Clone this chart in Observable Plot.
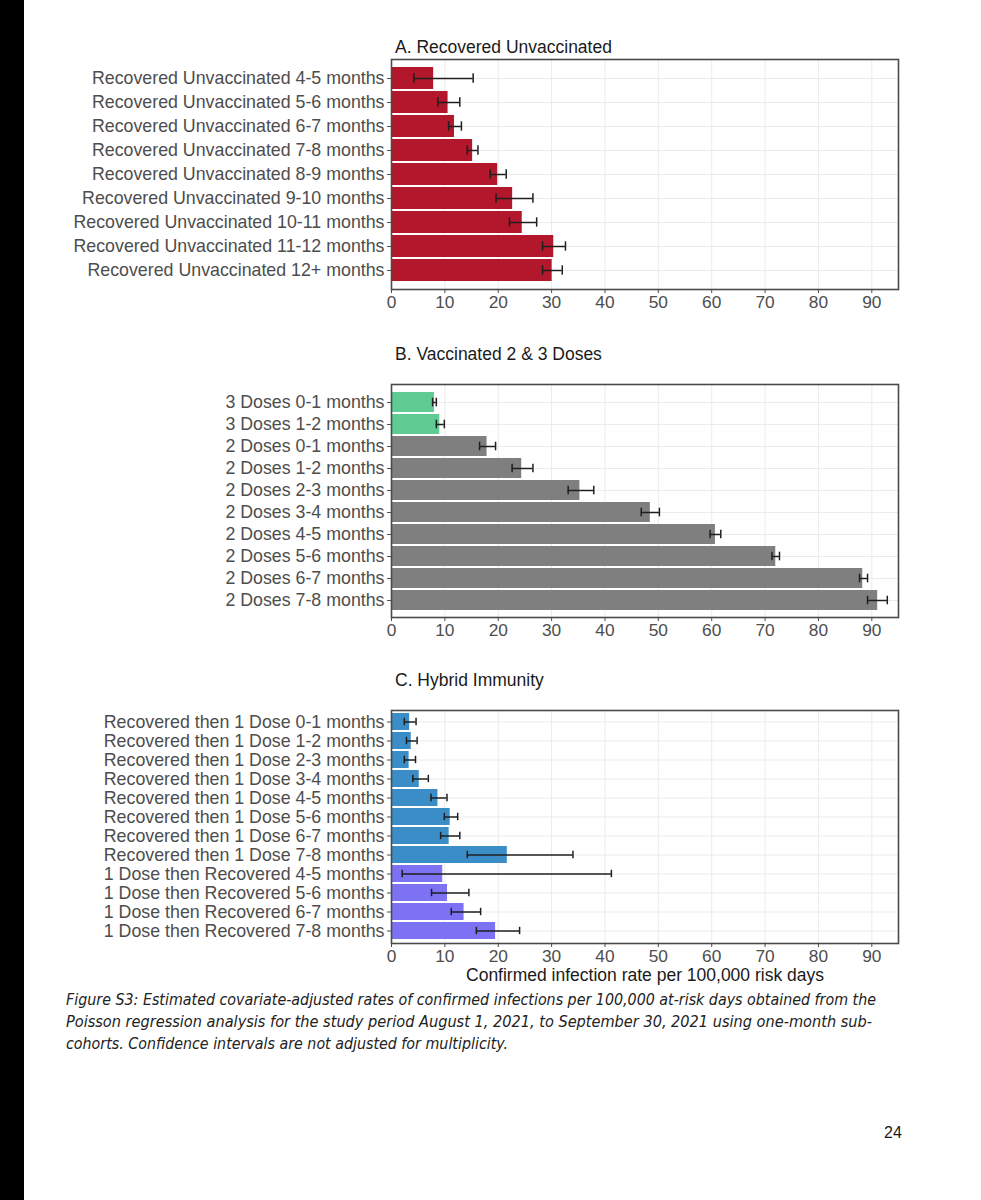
<!DOCTYPE html>
<html>
<head>
<meta charset="utf-8">
<script src="https://cdn.jsdelivr.net/npm/d3@7"></script>
<script src="https://cdn.jsdelivr.net/npm/@observablehq/plot@0.6"></script>
<style>
  html, body { margin: 0; padding: 0; background: #fff; }
  #page { position: relative; width: 981px; height: 1200px; background: #fff; overflow: hidden; font-family: "Liberation Sans", Arial, Helvetica, sans-serif; }
  #strip { position: absolute; left: 0; top: 0; width: 24px; height: 1200px; background: #000; }
  .panel { position: absolute; left: 0; }
  .title { position: absolute; left: 395px; font-size: 17.5px; color: #1a1a1a; white-space: nowrap; line-height: 1; }
  #pagenum { position: absolute; left: 884px; top: 1124px; font-size: 16px; color: #1a1a1a; }
  #caption { position: absolute; left: 0; top: 985px; }
</style>
</head>
<body>
<div id="page">
  <div id="strip"></div>
  <div class="title" style="top:39px">A. Recovered Unvaccinated</div>
  <div class="title" style="top:346px">B. Vaccinated 2 &amp; 3 Doses</div>
  <div class="title" style="top:672px">C. Hybrid Immunity</div>
  <div class="panel" id="pA" style="top:54px"></div>
  <div class="panel" id="pB" style="top:379px"></div>
  <div class="panel" id="pC" style="top:705px"></div>
  <svg id="caption" width="981" height="75"></svg>
  <div id="pagenum">24</div>
</div>
<script>
// ---------- data ----------
const xTicks = [0, 10, 20, 30, 40, 50, 60, 70, 80, 90];
const axisTitle = "Confirmed infection rate per 100,000 risk days";

const aLabels = [
  "Recovered Unvaccinated 4-5 months",
  "Recovered Unvaccinated 5-6 months",
  "Recovered Unvaccinated 6-7 months",
  "Recovered Unvaccinated 7-8 months",
  "Recovered Unvaccinated 8-9 months",
  "Recovered Unvaccinated 9-10 months",
  "Recovered Unvaccinated 10-11 months",
  "Recovered Unvaccinated 11-12 months",
  "Recovered Unvaccinated 12+ months"
];
const aRate  = [7.9, 10.6, 11.8, 15.2, 19.9, 22.7, 24.5, 30.4, 30.1];
const aLower = [4.2, 8.7, 10.7, 14.2, 18.5, 19.6, 22.1, 28.3, 28.3];
const aUpper = [15.3, 12.8, 13.1, 16.2, 21.5, 26.5, 27.2, 32.6, 32.0];
const aGroup = ["RU", "RU", "RU", "RU", "RU", "RU", "RU", "RU", "RU"];

const bLabels = [
  "3 Doses 0-1 months",
  "3 Doses 1-2 months",
  "2 Doses 0-1 months",
  "2 Doses 1-2 months",
  "2 Doses 2-3 months",
  "2 Doses 3-4 months",
  "2 Doses 4-5 months",
  "2 Doses 5-6 months",
  "2 Doses 6-7 months",
  "2 Doses 7-8 months"
];
const bRate  = [8.05, 9.05, 17.9, 24.4, 35.3, 48.5, 60.7, 72.0, 88.3, 91.1];
const bLower = [7.7, 8.4, 16.5, 22.6, 33.1, 46.8, 59.7, 71.3, 87.7, 89.2];
const bUpper = [8.4, 9.9, 19.5, 26.5, 37.9, 50.2, 61.7, 72.7, 89.2, 92.9];
const bGroup = ["3D", "3D", "2D", "2D", "2D", "2D", "2D", "2D", "2D", "2D"];

const cLabels = [
  "Recovered then 1 Dose 0-1 months",
  "Recovered then 1 Dose 1-2 months",
  "Recovered then 1 Dose 2-3 months",
  "Recovered then 1 Dose 3-4 months",
  "Recovered then 1 Dose 4-5 months",
  "Recovered then 1 Dose 5-6 months",
  "Recovered then 1 Dose 6-7 months",
  "Recovered then 1 Dose 7-8 months",
  "1 Dose then Recovered 4-5 months",
  "1 Dose then Recovered 5-6 months",
  "1 Dose then Recovered 6-7 months",
  "1 Dose then Recovered 7-8 months"
];
const cRate  = [3.4, 3.7, 3.3, 5.2, 8.7, 11.0, 10.8, 21.7, 9.6, 10.5, 13.6, 19.5];
const cLower = [2.4, 2.8, 2.4, 4.0, 7.4, 9.9, 9.2, 14.2, 2.0, 7.5, 11.2, 15.9];
const cUpper = [4.6, 4.8, 4.5, 6.9, 10.4, 12.4, 12.8, 34.0, 41.2, 14.5, 16.7, 24.0];
const cGroup = ["R1D", "R1D", "R1D", "R1D", "R1D", "R1D", "R1D", "R1D", "1DR", "1DR", "1DR", "1DR"];

const groupNames  = ["RU", "3D", "2D", "R1D", "1DR"];
const groupColors = ["#b3172b", "#5fcd93", "#7f7f7f", "#3a8dc6", "#7d72f3"];

const captionLines = [
  "Figure S3: Estimated covariate-adjusted rates of confirmed infections per 100,000 at-risk days obtained from the",
  "Poisson regression analysis for the study period August 1, 2021, to September 30, 2021 using one-month sub-",
  "cohorts. Confidence intervals are not adjusted for multiplicity."
];

// ---------- drawing ----------
function rows(labels, rate, lower, upper, group) {
  return labels.map((label, i) => ({label, rate: rate[i], lower: lower[i], upper: upper[i], group: group[i]}));
}

function panel(data, {innerHeight, capInset, marginBottom, withTitle}) {
  const marginTop = 5;
  const marks = [
    Plot.gridX(xTicks, {stroke: "#ebebeb", strokeOpacity: 1, strokeWidth: 1}),
    Plot.gridY({stroke: "#ebebeb", strokeOpacity: 1, strokeWidth: 1}),
    Plot.barX(data, {x: "rate", y: "label", fill: "group"}),
    Plot.ruleY(data, {y: "label", x1: "lower", x2: "upper", stroke: "#1f1f1f", strokeWidth: 1.5}),
    Plot.tickX(data, {x: "lower", y: "label", stroke: "#1f1f1f", strokeWidth: 1.5, insetTop: capInset, insetBottom: capInset}),
    Plot.tickX(data, {x: "upper", y: "label", stroke: "#1f1f1f", strokeWidth: 1.5, insetTop: capInset, insetBottom: capInset}),
    Plot.frame({stroke: "#4a4a4a", strokeWidth: 1.6}),
    Plot.axisX({ticks: xTicks, tickSize: 4, tickPadding: 2, label: null, fontSize: 17.3, color: "#4d4d4d"}),
    Plot.axisY({tickSize: 4, tickPadding: 3, label: null, fontSize: 17.8, color: "#4d4d4d"})
  ];
  if (withTitle) {
    marks.push(Plot.text([axisTitle], {frameAnchor: "bottom", dy: 37, fontSize: 17.5, fill: "#1a1a1a"}));
  }
  return Plot.plot({
    width: 981,
    height: marginTop + innerHeight + marginBottom,
    marginLeft: 391,
    marginRight: 83,
    marginTop,
    marginBottom,
    x: {domain: [0, 95]},
    y: {domain: data.map(d => d.label), paddingInner: 0.1, paddingOuter: 0.15},
    color: {domain: groupNames, range: groupColors},
    style: {fontFamily: "'Liberation Sans', Arial, Helvetica, sans-serif", fontSize: "17px", background: "transparent", color: "#4d4d4d"},
    marks
  });
}

document.getElementById("pA").appendChild(panel(rows(aLabels, aRate, aLower, aUpper, aGroup), {innerHeight: 230, capInset: 6.3, marginBottom: 35}));
document.getElementById("pB").appendChild(panel(rows(bLabels, bRate, bLower, bUpper, bGroup), {innerHeight: 233, capInset: 5.7, marginBottom: 35}));
document.getElementById("pC").appendChild(panel(rows(cLabels, cRate, cLower, cUpper, cGroup), {innerHeight: 233, capInset: 4.8, marginBottom: 50, withTitle: true}));

// caption
const cap = d3.select("#caption");
const capWidths = [810, 806, 442];
captionLines.forEach((t, i) => {
  cap.append("text")
    .attr("x", 66)
    .attr("y", 20 + i * 22)
    .attr("textLength", capWidths[i])
    .attr("lengthAdjust", "spacingAndGlyphs")
    .style("font-family", "'Liberation Sans Narrow', 'DejaVu Sans Condensed', 'Liberation Sans', sans-serif")
    .style("font-style", "italic")
    .style("font-size", "15.5px")
    .style("fill", "#222")
    .text(t);
});
</script>
</body>
</html>
